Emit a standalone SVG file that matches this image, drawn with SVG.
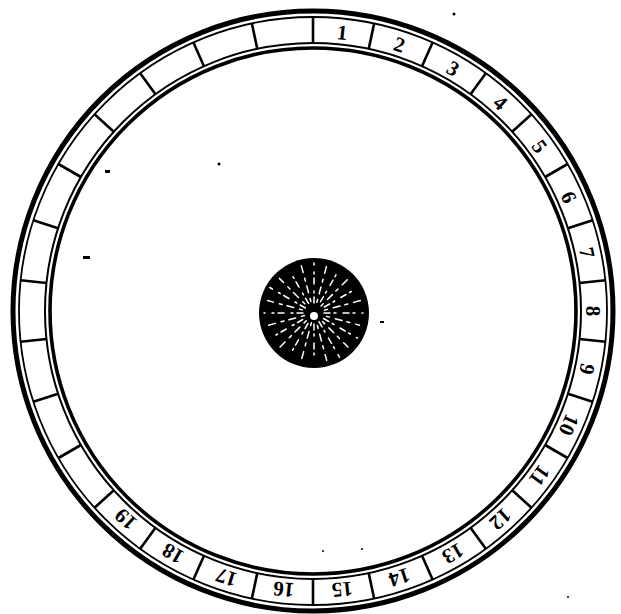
<svg xmlns="http://www.w3.org/2000/svg" width="621" height="614" viewBox="0 0 621 614">
<style>
.ring{fill:none;stroke:#000}
.div line{stroke:#000;stroke-width:2.6}
.num{font-family:"Liberation Serif","DejaVu Serif",serif;font-size:21px;font-weight:bold;text-anchor:middle;fill:#000}
.ray{stroke:#fff;stroke-width:1.5;stroke-linecap:round}
.ra{stroke-dasharray:6 4 2 7}
.rb{stroke-dasharray:3 6 7 5}
</style>
<rect width="621" height="614" fill="#fff"/>
<g id="ring">
<circle class="ring" cx="313" cy="311" r="300" stroke-width="5"/>
<circle class="ring" cx="313" cy="311" r="294" stroke-width="1.8"/>
<circle class="ring" cx="313" cy="311" r="268" stroke-width="2"/>
<circle class="ring" cx="313" cy="311" r="263" stroke-width="3.6"/>
</g>
<g id="dividers" class="div">
<line x1="313" y1="17" x2="313" y2="43" transform="rotate(0 313 311)"/>
<line x1="313" y1="17" x2="313" y2="43" transform="rotate(12 313 311)"/>
<line x1="313" y1="17" x2="313" y2="43" transform="rotate(24 313 311)"/>
<line x1="313" y1="17" x2="313" y2="43" transform="rotate(36 313 311)"/>
<line x1="313" y1="17" x2="313" y2="43" transform="rotate(48 313 311)"/>
<line x1="313" y1="17" x2="313" y2="43" transform="rotate(60 313 311)"/>
<line x1="313" y1="17" x2="313" y2="43" transform="rotate(72 313 311)"/>
<line x1="313" y1="17" x2="313" y2="43" transform="rotate(84 313 311)"/>
<line x1="313" y1="17" x2="313" y2="43" transform="rotate(96 313 311)"/>
<line x1="313" y1="17" x2="313" y2="43" transform="rotate(108 313 311)"/>
<line x1="313" y1="17" x2="313" y2="43" transform="rotate(120 313 311)"/>
<line x1="313" y1="17" x2="313" y2="43" transform="rotate(132 313 311)"/>
<line x1="313" y1="17" x2="313" y2="43" transform="rotate(144 313 311)"/>
<line x1="313" y1="17" x2="313" y2="43" transform="rotate(156 313 311)"/>
<line x1="313" y1="17" x2="313" y2="43" transform="rotate(168 313 311)"/>
<line x1="313" y1="17" x2="313" y2="43" transform="rotate(180 313 311)"/>
<line x1="313" y1="17" x2="313" y2="43" transform="rotate(192 313 311)"/>
<line x1="313" y1="17" x2="313" y2="43" transform="rotate(204 313 311)"/>
<line x1="313" y1="17" x2="313" y2="43" transform="rotate(216 313 311)"/>
<line x1="313" y1="17" x2="313" y2="43" transform="rotate(228 313 311)"/>
<line x1="313" y1="17" x2="313" y2="43" transform="rotate(240 313 311)"/>
<line x1="313" y1="17" x2="313" y2="43" transform="rotate(252 313 311)"/>
<line x1="313" y1="17" x2="313" y2="43" transform="rotate(264 313 311)"/>
<line x1="313" y1="17" x2="313" y2="43" transform="rotate(276 313 311)"/>
<line x1="313" y1="17" x2="313" y2="43" transform="rotate(288 313 311)"/>
<line x1="313" y1="17" x2="313" y2="43" transform="rotate(300 313 311)"/>
<line x1="313" y1="17" x2="313" y2="43" transform="rotate(312 313 311)"/>
<line x1="313" y1="17" x2="313" y2="43" transform="rotate(324 313 311)"/>
<line x1="313" y1="17" x2="313" y2="43" transform="rotate(336 313 311)"/>
<line x1="313" y1="17" x2="313" y2="43" transform="rotate(348 313 311)"/>
</g>
<g id="numbers">
<text class="num" x="313" y="38" transform="rotate(6 313 311)">1</text>
<text class="num" x="313" y="38" transform="rotate(18 313 311)">2</text>
<text class="num" x="313" y="38" transform="rotate(30 313 311)">3</text>
<text class="num" x="313" y="38" transform="rotate(42 313 311)">4</text>
<text class="num" x="313" y="38" transform="rotate(54 313 311)">5</text>
<text class="num" x="313" y="38" transform="rotate(66 313 311)">6</text>
<text class="num" x="313" y="38" transform="rotate(78 313 311)">7</text>
<text class="num" x="313" y="38" transform="rotate(90 313 311)">8</text>
<text class="num" x="313" y="38" transform="rotate(102 313 311)">9</text>
<text class="num" x="313" y="38" transform="rotate(114 313 311)">10</text>
<text class="num" x="313" y="38" transform="rotate(126 313 311)">11</text>
<text class="num" x="313" y="38" transform="rotate(138 313 311)">12</text>
<text class="num" x="313" y="38" transform="rotate(150 313 311)">13</text>
<text class="num" x="313" y="38" transform="rotate(162 313 311)">14</text>
<text class="num" x="313" y="38" transform="rotate(174 313 311)">15</text>
<text class="num" x="313" y="38" transform="rotate(186 313 311)">16</text>
<text class="num" x="313" y="38" transform="rotate(198 313 311)">17</text>
<text class="num" x="313" y="38" transform="rotate(210 313 311)">18</text>
<text class="num" x="313" y="38" transform="rotate(222 313 311)">19</text>
</g>
<g id="hub">
<circle cx="314" cy="313" r="55" fill="#000"/>
<g>
<line class="ray ra" x1="314" y1="303" x2="314" y2="263" transform="rotate(0 314 313)"/>
<line class="ray rb" x1="314" y1="302" x2="314" y2="264" transform="rotate(15 314 313)"/>
<line class="ray ra" x1="314" y1="300" x2="314" y2="266" transform="rotate(30 314 313)"/>
<line class="ray rb" x1="314" y1="303" x2="314" y2="263" transform="rotate(45 314 313)"/>
<line class="ray ra" x1="314" y1="301" x2="314" y2="265" transform="rotate(60 314 313)"/>
<line class="ray rb" x1="314" y1="302" x2="314" y2="262" transform="rotate(75 314 313)"/>
<line class="ray ra" x1="314" y1="303" x2="314" y2="264" transform="rotate(90 314 313)"/>
<line class="ray rb" x1="314" y1="300" x2="314" y2="266" transform="rotate(105 314 313)"/>
<line class="ray ra" x1="314" y1="302" x2="314" y2="263" transform="rotate(120 314 313)"/>
<line class="ray rb" x1="314" y1="301" x2="314" y2="265" transform="rotate(135 314 313)"/>
<line class="ray ra" x1="314" y1="303" x2="314" y2="262" transform="rotate(150 314 313)"/>
<line class="ray rb" x1="314" y1="300" x2="314" y2="264" transform="rotate(165 314 313)"/>
<line class="ray ra" x1="314" y1="302" x2="314" y2="266" transform="rotate(180 314 313)"/>
<line class="ray rb" x1="314" y1="303" x2="314" y2="263" transform="rotate(195 314 313)"/>
<line class="ray ra" x1="314" y1="301" x2="314" y2="265" transform="rotate(210 314 313)"/>
<line class="ray rb" x1="314" y1="302" x2="314" y2="262" transform="rotate(225 314 313)"/>
<line class="ray ra" x1="314" y1="300" x2="314" y2="264" transform="rotate(240 314 313)"/>
<line class="ray rb" x1="314" y1="303" x2="314" y2="266" transform="rotate(255 314 313)"/>
<line class="ray ra" x1="314" y1="302" x2="314" y2="263" transform="rotate(270 314 313)"/>
<line class="ray rb" x1="314" y1="301" x2="314" y2="265" transform="rotate(285 314 313)"/>
<line class="ray ra" x1="314" y1="303" x2="314" y2="262" transform="rotate(300 314 313)"/>
<line class="ray rb" x1="314" y1="300" x2="314" y2="264" transform="rotate(315 314 313)"/>
<line class="ray ra" x1="314" y1="302" x2="314" y2="266" transform="rotate(330 314 313)"/>
<line class="ray rb" x1="314" y1="301" x2="314" y2="263" transform="rotate(345 314 313)"/>
</g>
<circle cx="314" cy="316" r="4" fill="#fff"/>
</g>
<g id="specks" fill="#000">
<circle cx="454" cy="14" r="1.5"/>
<circle cx="219" cy="164" r="1.5"/>
<rect x="105" y="170" width="5" height="3"/>
<rect x="83" y="256" width="7" height="3"/>
<rect x="380" y="321" width="4" height="2"/>
<circle cx="323" cy="551" r="1"/>
<circle cx="362" cy="549" r="1"/>
<circle cx="568" cy="597" r="1"/>
</g>
</svg>
